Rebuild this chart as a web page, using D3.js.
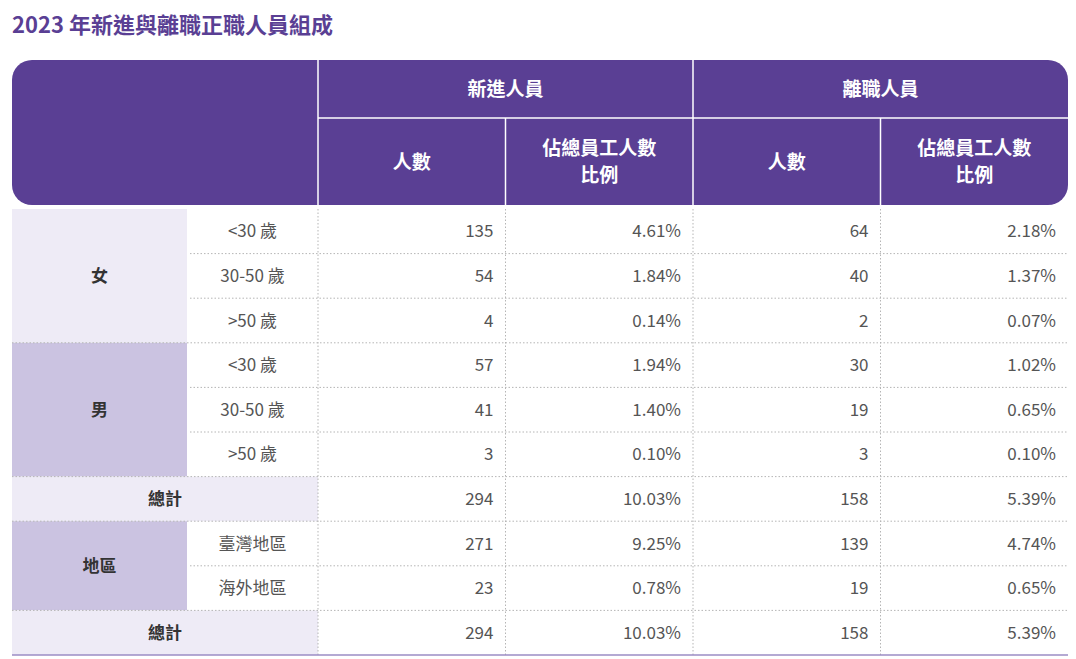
<!DOCTYPE html>
<html><head><meta charset="utf-8">
<script src="https://cdn.jsdelivr.net/npm/d3@7"></script>
<style>body{margin:0;background:#fff}</style></head>
<body><svg id="c" width="1076" height="659"></svg>
<script>
const title = "2023 年新進與離職正職人員組成";
const groups = ["新進人員", "離職人員"];
const subHeads = ["人數", "佔總員工人數\n比例"];
const rowGroups = [
  {name:"女", rows:["<30 歲","30-50 歲",">50 歲"], dark:false},
  {name:"男", rows:["<30 歲","30-50 歲",">50 歲"], dark:true},
  {name:"總計", rows:null, dark:false},
  {name:"地區", rows:["臺灣地區","海外地區"], dark:true},
  {name:"總計", rows:null, dark:false}
];
const newCount = [135,54,4,57,41,3,294,271,23,294];
const newPct   = ["4.61%","1.84%","0.14%","1.94%","1.40%","0.10%","10.03%","9.25%","0.78%","10.03%"];
const outCount = [64,40,2,30,19,3,158,139,19,158];
const outPct   = ["2.18%","1.37%","0.07%","1.02%","0.65%","0.10%","5.39%","4.74%","0.65%","5.39%"];

const svg = d3.select("#c");
const font = "'Noto Sans CJK TC','Noto Sans',sans-serif";
const purple = "#5a3f94", light = "#eeebf6", dark = "#cbc3e1", txt = "#555";
svg.append("text").attr("x",12).attr("y",33).text(title)
  .attr("font-family",font).attr("font-size",22).attr("font-weight",700).attr("fill","#5a3f94");

const L=12, R=1068, c1=187, c2=318;
const x = d3.scaleBand().domain([0,1,2,3]).range([c2,R]);
const hTop=60, hMid=118, hBot=205;
const y = d3.scaleBand().domain(d3.range(10)).range([209,655]);

// header
const r=20;
svg.append("path").attr("fill",purple).attr("d",
 `M${L+r},${hTop}H${R-r}A${r},${r} 0 0 1 ${R},${hTop+r}V${hBot-r}A${r},${r} 0 0 1 ${R-r},${hBot}H${L+r}A${r},${r} 0 0 1 ${L},${hBot-r}V${hTop+r}A${r},${r} 0 0 1 ${L+r},${hTop}Z`);
const wline=(x1,y1,x2,y2)=>svg.append("line").attr("x1",x1).attr("y1",y1).attr("x2",x2).attr("y2",y2).attr("stroke","#fff").attr("stroke-width",1.5);
wline(c2,hTop,c2,hBot); wline(x(2),hTop,x(2),hBot); wline(c2,hMid,R,hMid);
wline(x(1),hMid,x(1),hBot); wline(x(3),hMid,x(3),hBot);
const ht=(s,cx,cy)=>{const lines=s.split("\n");lines.forEach((l,i)=>svg.append("text").attr("x",cx).attr("y",cy+(i-(lines.length-1)/2)*27+7)
  .attr("text-anchor","middle").attr("font-family",font).attr("font-size",19).attr("font-weight",700).attr("fill","#fff").text(l));};
groups.forEach((g,i)=>ht(g,x(i*2)+x.bandwidth(),(hTop+hMid)/2));
[0,1,2,3].forEach(i=>ht(subHeads[i%2],x(i)+x.bandwidth()/2,(hMid+hBot)/2));

// body
let ri=0;
const dotted=(x1,y1,x2,y2)=>svg.append("line").attr("x1",x1).attr("y1",y1).attr("x2",x2).attr("y2",y2)
  .attr("stroke","#b5b5b5").attr("stroke-width",1).attr("stroke-dasharray","1.5,2");
const cell=(s,cx,cy,anchor,bold)=>svg.append("text").attr("x",cx).attr("y",cy+6).attr("text-anchor",anchor)
  .attr("font-family",font).attr("font-size",17).attr("font-weight",bold?700:400).attr("fill",bold?"#333":txt).text(s);
rowGroups.forEach(g=>{
  const n=g.rows?g.rows.length:1;
  const y0=y(ri), y1=y(ri+n-1)+y.bandwidth();
  svg.append("rect").attr("x",L).attr("y",y0).attr("width",(g.rows?c1:c2)-L).attr("height",y1-y0)
    .attr("fill",g.dark?dark:light);
  cell(g.name,(L+(g.rows?c1:c2))/2,(y0+y1)/2,"middle",true);
  if(g.rows) g.rows.forEach((s,k)=>{
    cell(s,(c1+c2)/2,y(ri+k)+y.bandwidth()/2,"middle",false);
    if(k>0) dotted(c1+3,y(ri+k),R,y(ri+k));
  });
  if(ri>0) dotted(L,y0,R,y0);
  ri+=n;
});
[c2,x(1),x(2),x(3)].forEach(xx=>dotted(xx,209,xx,655));
d3.range(10).forEach(i=>{
  const cy=y(i)+y.bandwidth()/2;
  [newCount[i],newPct[i],outCount[i],outPct[i]].forEach((v,j)=>cell(v,x(j)+x.bandwidth()-12,cy,"end",false));
});
svg.append("line").attr("x1",L).attr("x2",R).attr("y1",655).attr("y2",655).attr("stroke","#9b8cc4").attr("stroke-width",1.5);
</script></body></html>
